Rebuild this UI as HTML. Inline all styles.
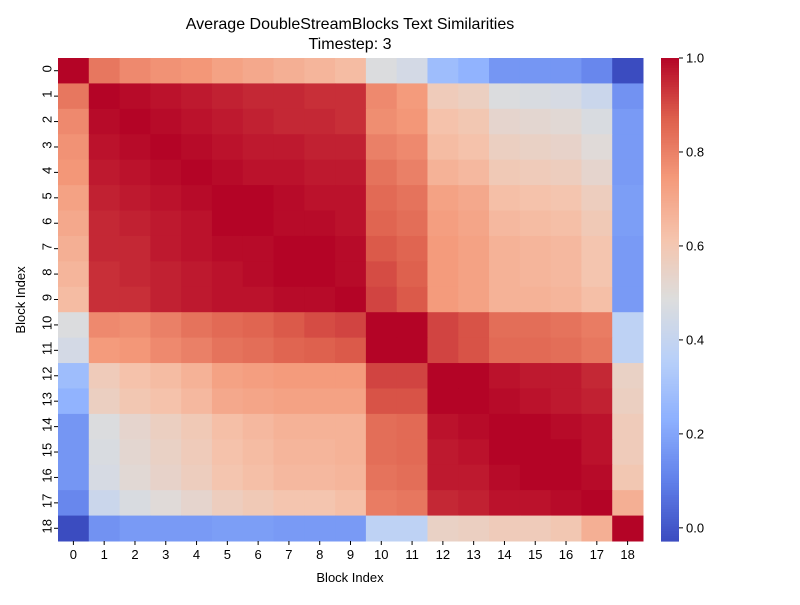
<!DOCTYPE html>
<html><head><meta charset="utf-8">
<style>
body{margin:0;background:#fff;}
svg text{font-family:"Liberation Sans","DejaVu Sans",sans-serif;fill:#000;}
</style></head>
<body>
<svg id="chart" width="800" height="600" xmlns="http://www.w3.org/2000/svg">
<rect width="800" height="600" fill="#fff"/>
<text x="350" y="29" font-size="16" text-anchor="middle">Average DoubleStreamBlocks Text Similarities</text>
<text x="350" y="49" font-size="16" text-anchor="middle">Timestep: 3</text>
<g id="cells"></g><g id="xt"></g><g id="yt"></g><g id="cb"></g>
<text x="350" y="582" font-size="13" text-anchor="middle">Block Index</text>
<text x="25" y="300" font-size="13" text-anchor="middle" transform="rotate(-90 25 300)">Block Index</text>
</svg>
<script>
const labels=[0,1,2,3,4,5,6,7,8,9,10,11,12,13,14,15,16,17,18];
const row0=[1,.82,.78,.76,.75,.72,.70,.68,.66,.64,.48,.45,.28,.24,.16,.16,.16,.12,-.03];
const row1=[.82,1,.99,.98,.97,.96,.95,.95,.94,.94,.78,.74,.58,.56,.48,.47,.46,.42,.15];
const row2=[.78,.99,1,.99,.98,.97,.96,.95,.95,.94,.77,.75,.62,.6,.53,.52,.51,.47,.17];
const row3=[.76,.98,.99,1,.99,.98,.97,.97,.96,.96,.8,.78,.64,.62,.56,.55,.54,.5,.17];
const row4=[.75,.97,.98,.99,1,.99,.98,.98,.97,.97,.83,.8,.67,.65,.59,.58,.57,.53,.17];
const row5=[.72,.96,.97,.98,.99,1,1,.99,.98,.98,.85,.83,.72,.7,.63,.62,.61,.57,.18];
const row6=[.70,.95,.96,.97,.98,1,1,.99,.99,.98,.86,.84,.73,.71,.65,.64,.63,.59,.18];
const row7=[.68,.95,.95,.97,.98,.99,.99,1,1,.99,.88,.86,.74,.72,.67,.66,.65,.61,.17];
const row8=[.66,.94,.95,.96,.97,.98,.99,1,1,.99,.9,.87,.74,.72,.67,.66,.65,.61,.17];
const row9=[.64,.94,.94,.96,.97,.98,.98,.99,.99,1,.91,.88,.74,.72,.67,.67,.66,.63,.17];
const row10=[.48,.78,.77,.8,.83,.85,.86,.88,.9,.91,1,1,.91,.89,.84,.84,.83,.81,.38];
const row11=[.45,.74,.75,.78,.8,.83,.84,.86,.87,.88,1,1,.91,.89,.85,.85,.84,.82,.38];
const row12=[.28,.58,.62,.64,.67,.72,.73,.74,.74,.74,.91,.91,1,1,.98,.97,.97,.95,.55];
const row13=[.24,.56,.6,.62,.65,.7,.71,.72,.72,.72,.89,.89,1,1,.99,.98,.97,.96,.56];
const row14=[.16,.48,.53,.56,.59,.63,.65,.67,.67,.67,.84,.85,.98,.99,1,1,.99,.98,.58];
const row15=[.16,.47,.52,.55,.58,.62,.64,.66,.66,.67,.84,.85,.97,.98,1,1,1,.98,.58];
const row16=[.16,.46,.51,.54,.57,.61,.63,.65,.65,.66,.83,.84,.97,.97,.99,1,1,.99,.6];
const row17=[.12,.42,.47,.5,.53,.57,.59,.61,.61,.63,.81,.82,.95,.96,.98,.98,.99,1,.68];
const row18=[-.03,.15,.17,.17,.17,.18,.18,.17,.17,.17,.38,.38,.55,.56,.58,.58,.6,.68,1];
const cbTicks=[0,0.2,0.4,0.6,0.8,1.0];
const matrix=[row0,row1,row2,row3,row4,row5,row6,row7,row8,row9,row10,row11,row12,row13,row14,row15,row16,row17,row18];
const vmin=-0.028,vmax=1.0;
const L=58,T=58,W=585,H=483,n=labels.length,cw=W/n,ch=H/n;
const stops=[[59,76,192],[97,128,234],[141,176,254],[184,208,249],[221,221,221],[245,196,173],[244,154,123],[222,96,77],[180,4,38]];
function cmap(v){let t=(v-vmin)/(vmax-vmin);t=Math.max(0,Math.min(1,t));const p=t*8,i=Math.min(7,Math.floor(p)),f=p-i;const a=stops[i],b=stops[i+1];return `rgb(${a.map((c,k)=>Math.round(c+(b[k]-c)*f)).join(',')})`;}
const NS="http://www.w3.org/2000/svg";
function mk(tag,attrs,parent){const e=document.createElementNS(NS,tag);for(const k in attrs)e.setAttribute(k,attrs[k]);parent.appendChild(e);return e;}
const cells=document.getElementById('cells');
matrix.forEach((row,i)=>row.forEach((v,j)=>{
 const r=mk('rect',{x:L+j*cw,y:T+i*ch,width:cw+0.5,height:ch+0.5,fill:cmap(v)},cells);
 
 
}));
const xt=document.getElementById('xt'),yt=document.getElementById('yt');
labels.forEach((lb,i)=>{
 const cx=L+(i+0.5)*cw,cy=T+(i+0.5)*ch;
 mk('line',{x1:cx,x2:cx,y1:T+H,y2:T+H+4,stroke:'#000'},xt);
 const t=mk('text',{x:cx,y:T+H+18,'font-size':13,'text-anchor':'middle'},xt);t.textContent=lb;
 
 
 mk('line',{x1:L-4,x2:L,y1:cy,y2:cy,stroke:'#000'},yt);
 const u=mk('text',{x:L-8,y:cy,'font-size':13,'text-anchor':'middle',transform:`rotate(-90 ${L-10} ${cy})`,'dominant-baseline':'middle'},yt);u.textContent=lb;
 
 
});
const cb=document.getElementById('cb');
const CX=661,CW=18;
for(let k=0;k<200;k++){const y0=T+H*k/200;const v=vmax-(vmax-vmin)*(k+0.5)/200;mk('rect',{x:CX,y:y0,width:CW,height:H/200+0.6,fill:cmap(v)},cb);}
const cbBox=mk('rect',{x:CX,y:T,width:CW,height:H,fill:'none'},cb);


cbTicks.forEach(v=>{const y=T+H*(vmax-v)/(vmax-vmin);mk('line',{x1:CX+CW,x2:CX+CW+4,y1:y,y2:y,stroke:'#000'},cb);
 const t=mk('text',{x:CX+CW+7,y:y+4.5,'font-size':13},cb);t.textContent=v.toFixed(1);
 
 
});
</script>
</body></html>
